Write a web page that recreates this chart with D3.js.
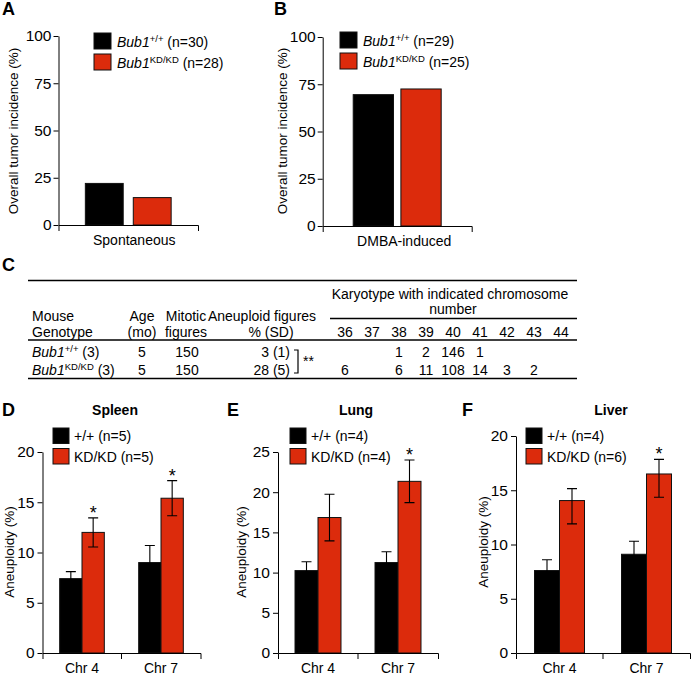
<!DOCTYPE html>
<html><head><meta charset="utf-8">
<script src="https://cdn.jsdelivr.net/npm/d3@7"></script>
<style>
body{margin:0;background:#fff;}
svg{display:block;font-family:"Liberation Sans",Arial,Helvetica,sans-serif;}
</style></head><body>
<svg id="fig" width="691" height="675"></svg>
<script>
// ---------------- data ----------------
const groupKeys = ["wt", "kd"];
const incidenceTicks = [0, 25, 50, 75, 100];
const spontaneousCategory = ["Spontaneous"];
const spontaneousIncidence = [22, 14.5];
const spontaneousN = [30, 28];
const dmbaCategory = ["DMBA-induced"];
const dmbaIncidence = [69.5, 72.5];
const dmbaN = [29, 25];

const tableGenotypeSup = ["+/+", "KD/KD"];
const tableMice = [3, 3];
const tableAge = [5, 5];
const tableMitotic = [150, 150];
const tableAneuploidPct = [3, 28];
const tableAneuploidSD = [1, 5];
const chromosomeNumbers = [36, 37, 38, 39, 40, 41, 42, 43, 44];
const karyotypeWT = [null, null, 1, 2, 146, 1, null, null, null];
const karyotypeKD = [6, null, 6, 11, 108, 14, 3, 2, null];

const chromosomes = ["Chr 4", "Chr 7"];
const spleenTicks = [0, 5, 10, 15, 20];
const spleenWT = [7.4, 9.0];
const spleenWTErr = [0.7, 1.7];
const spleenKD = [12.0, 15.4];
const spleenKDErr = [1.45, 1.75];
const spleenN = [5, 5];
const spleenSig = [true, true];

const lungTicks = [0, 5, 10, 15, 20, 25];
const lungWT = [10.25, 11.25];
const lungWTErr = [1.1, 1.35];
const lungKD = [16.85, 21.35];
const lungKDErr = [2.9, 2.65];
const lungN = [4, 4];
const lungSig = [false, true];

const liverTicks = [0, 5, 10, 15, 20];
const liverWT = [7.6, 9.1];
const liverWTErr = [1.0, 1.2];
const liverKD = [14.05, 16.5];
const liverKDErrUp = [1.1, 1.35];
const liverKDErrDown = [2.15, 2.15];
const liverN = [4, 6];
const liverSig = [false, true];

// ---------------- styles ----------------
const RED = "#dc2b0c";
const FONT = "Liberation Sans, Arial, Helvetica, sans-serif";
const TICKFONT = 15.5;
const svg = d3.select("#fig");

function styleAxis(g, size) {
  g.attr("font-family", FONT).attr("font-size", size || TICKFONT);
  g.selectAll("path,line").attr("stroke", "#000").attr("stroke-width", 1);
}

function richText(g, x, y, parts, size) {
  const t = g.append("text").attr("x", x).attr("y", y).attr("font-size", size || 14);
  parts.forEach(p => {
    const s = t.append("tspan").text(p.t);
    if (p.it) s.attr("font-style", "italic");
    if (p.sup) s.attr("font-size", 9.5).attr("dy", -5);
    if (p.unsup) s.attr("dy", 5);
  });
  return t;
}

function panelLabel(txt, x, y) {
  svg.append("text").attr("x", x).attr("y", y).attr("font-size", 18)
    .attr("font-weight", "bold").text(txt);
}

function yLabel(txt, cx, cy, size) {
  svg.append("text").attr("transform", `translate(${cx},${cy}) rotate(-90)`)
    .attr("text-anchor", "middle").attr("dy", "0.35em")
    .attr("font-size", size || 13.5).text(txt);
}

// ---------------- panels A & B ----------------
function incidencePanel(o) {
  const g = svg.append("g");
  const y = d3.scaleLinear().domain([0, 100]).range([o.y0, o.y1]);
  const x = d3.scaleBand().domain(o.cat).range([o.xl, o.xr]);
  const xi = d3.scaleBand().domain(groupKeys).range([0, x.bandwidth()])
    .paddingInner(o.pi).paddingOuter(o.po);

  g.selectAll("rect.bar").data(o.values).join("rect")
    .attr("x", (d, i) => x(o.cat[0]) + xi(groupKeys[i]))
    .attr("width", xi.bandwidth())
    .attr("y", d => y(d))
    .attr("height", d => y(0) - y(d))
    .attr("fill", (d, i) => i === 0 ? "#000" : RED)
    .attr("stroke", "#111").attr("stroke-width", 1);

  const ya = g.append("g").attr("transform", `translate(${o.xl},0)`)
    .call(d3.axisLeft(y).tickValues(incidenceTicks).tickSize(5).tickSizeOuter(0).tickPadding(2));
  styleAxis(ya);
  const xa = g.append("g").attr("transform", `translate(0,${o.y0})`)
    .call(d3.axisBottom(x).tickSize(0).tickSizeOuter(6).tickPadding(10));
  styleAxis(xa, 14);
  xa.selectAll(".tick text").attr("dx", o.labelDx);

  // legend
  o.n.forEach((n, i) => {
    g.append("rect").attr("x", o.lx).attr("y", o.ly + i * 21).attr("width", 17).attr("height", 16)
      .attr("fill", i === 0 ? "#000" : RED).attr("stroke", "#111");
    richText(g, o.lx + 23, o.ly + i * 21 + 13.5, [
      { t: "Bub1", it: true }, { t: i === 0 ? "+/+" : "KD/KD", sup: true },
      { t: ` (n=${n})`, unsup: true }
    ]);
  });
}

panelLabel("A", 2, 15);
yLabel("Overall tumor incidence (%)", 13, 131);
incidencePanel({ cat: spontaneousCategory, values: spontaneousIncidence, n: spontaneousN,
  y0: 225, y1: 36, xl: 58.5, xr: 198, pi: 0.21, po: 0.56, lx: 94, ly: 33, labelDx: 6 });

panelLabel("B", 274, 15);
yLabel("Overall tumor incidence (%)", 282, 131);
incidencePanel({ cat: dmbaCategory, values: dmbaIncidence, n: dmbaN,
  y0: 226, y1: 37, xl: 322.7, xr: 471.7, pi: 0.155, po: 0.64, lx: 340, ly: 32, labelDx: 7 });

// ---------------- panel C (table) ----------------
panelLabel("C", 2, 271);
const T = {
  left: 28, right: 577, top: 280.5, karyLine: 318.5, karyLeft: 330, headLine: 340, bottom: 378.5,
  karyY1: 299, karyY2: 314, head1: 321, head2: 337, rows: [356.5, 375],
  genoX: 32, ageX: 142, mitX: 186, aneuHeadX: 262, aneuSdX: 271, aneuValX: 290,
  karyCx: 450, numCx: 453, numL: 345, numR: 561
};
const tg = svg.append("g").attr("font-size", 14);
[[T.left, T.top], [T.left, T.headLine], [T.left, T.bottom], [T.karyLeft, T.karyLine]].forEach(([x1, yy]) => {
  tg.append("line").attr("x1", x1).attr("x2", T.right).attr("y1", yy).attr("y2", yy)
    .attr("stroke", "#000").attr("stroke-width", 1.4);
});
function cell(txt, x, y, anchor) {
  tg.append("text").attr("x", x).attr("y", y).attr("text-anchor", anchor || "middle").text(txt);
}
cell("Karyotype with indicated chromosome", T.karyCx, T.karyY1);
cell("number", T.numCx, T.karyY2);
cell("Mouse", T.genoX, T.head1, "start");
cell("Genotype", T.genoX, T.head2, "start");
cell("Age", T.ageX, T.head1);
cell("(mo)", T.ageX, T.head2);
cell("Mitotic", T.mitX, T.head1);
cell("figures", T.mitX, T.head2);
cell("Aneuploid figures", T.aneuHeadX, T.head1);
cell("% (SD)", T.aneuSdX, T.head2);
const xNum = d3.scalePoint().domain(chromosomeNumbers).range([T.numL, T.numR]);
chromosomeNumbers.forEach(c => cell(String(c), xNum(c), T.head2));
[karyotypeWT, karyotypeKD].forEach((row, r) => {
  const yy = T.rows[r];
  richText(tg, T.genoX, yy, [{ t: "Bub1", it: true }, { t: tableGenotypeSup[r], sup: true },
    { t: ` (${tableMice[r]})`, unsup: true }]);
  cell(String(tableAge[r]), T.ageX, yy);
  cell(String(tableMitotic[r]), T.mitX + 1, yy);
  cell(`${tableAneuploidPct[r]} (${tableAneuploidSD[r]})`, T.aneuValX, yy, "end");
  row.forEach((v, i) => { if (v !== null) cell(String(v), xNum(chromosomeNumbers[i]), yy); });
});
// significance bracket
tg.append("path").attr("d", "M294,350H298V373H294").attr("fill", "none")
  .attr("stroke", "#000").attr("stroke-width", 1.2);
cell("**", 303, 366, "start");

// ---------------- panels D, E, F ----------------
function aneuPanel(o) {
  const g = svg.append("g");
  const base = 653;
  const y = d3.scaleLinear().domain([0, d3.max(o.ticks)]).range([base, o.top]);
  const x0 = d3.scaleBand().domain(chromosomes).range([o.xl, o.xr]);
  const xi = d3.scaleBand().domain(groupKeys).range([0, x0.bandwidth()]).paddingInner(0).paddingOuter(o.po);
  const series = [
    { key: "wt", vals: o.wt, up: o.wtErr, down: o.wtErr, fill: "#000" },
    { key: "kd", vals: o.kd, up: o.kdErrUp, down: o.kdErrDown, fill: RED }
  ];
  series.forEach(s => {
    s.vals.forEach((v, i) => {
      const bx = x0(chromosomes[i]) + xi(s.key);
      g.append("rect").attr("x", bx).attr("width", xi.bandwidth())
        .attr("y", y(v)).attr("height", base - y(v))
        .attr("fill", s.fill).attr("stroke", "#111").attr("stroke-width", 1);
    });
  });
  series.forEach(s => {
    s.vals.forEach((v, i) => {
      const cx = x0(chromosomes[i]) + xi(s.key) + xi.bandwidth() / 2;
      const yt = y(v + s.up[i]), yb = y(v - s.down[i]);
      g.append("path").attr("d", `M${cx},${yt}V${yb}M${cx - 5},${yt}H${cx + 5}M${cx - 5},${yb}H${cx + 5}`)
        .attr("stroke", "#000").attr("stroke-width", 1.1).attr("fill", "none");
      if (s.key === "kd" && o.sig[i]) {
        g.append("text").attr("x", cx).attr("y", yt + 1).attr("text-anchor", "middle")
          .attr("font-size", 18).text("*");
      }
    });
  });
  const ya = g.append("g").attr("transform", `translate(${o.xl},0)`)
    .call(d3.axisLeft(y).tickValues(o.ticks).tickSize(5).tickSizeOuter(0).tickPadding(3));
  styleAxis(ya);
  const xa = g.append("g").attr("transform", `translate(0,${base})`)
    .call(d3.axisBottom(x0).tickSize(0).tickSizeOuter(6).tickPadding(10));
  styleAxis(xa, 14);
  g.append("line").attr("x1", x0(chromosomes[1])).attr("x2", x0(chromosomes[1]))
    .attr("y1", base).attr("y2", base + 6).attr("stroke", "#000");
  // title
  g.append("text").attr("x", o.titleX).attr("y", 415).attr("text-anchor", "middle")
    .attr("font-size", 14).attr("font-weight", "bold").text(o.title);
  // legend
  const labels = ["+/+", "KD/KD"];
  o.n.forEach((n, i) => {
    g.append("rect").attr("x", o.lx).attr("y", 428 + i * 20.5).attr("width", 16).attr("height", 15.5)
      .attr("fill", i === 0 ? "#000" : RED).attr("stroke", "#111");
    g.append("text").attr("x", o.lx + 21).attr("y", 441 + i * 20.5).attr("font-size", 14)
      .text(`${labels[i]} (n=${n})`);
  });
}

panelLabel("D", 2, 416);
yLabel("Aneuploidy (%)", 9.5, 552);
aneuPanel({ title: "Spleen", titleX: 115, ticks: spleenTicks, top: 452, xl: 42.5, xr: 200.5, po: 0.77,
  wt: spleenWT, wtErr: spleenWTErr, kd: spleenKD, kdErrUp: spleenKDErr, kdErrDown: spleenKDErr,
  sig: spleenSig, n: spleenN, lx: 53 });

panelLabel("E", 227, 416);
yLabel("Aneuploidy (%)", 241.5, 552);
aneuPanel({ title: "Lung", titleX: 356, ticks: lungTicks, top: 452, xl: 278, xr: 438, po: 0.74,
  wt: lungWT, wtErr: lungWTErr, kd: lungKD, kdErrUp: lungKDErr, kdErrDown: lungKDErr,
  sig: lungSig, n: lungN, lx: 290 });

panelLabel("F", 462, 416);
yLabel("Aneuploidy (%)", 483, 542);
aneuPanel({ title: "Liver", titleX: 611, ticks: liverTicks, top: 436, xl: 516, xr: 690, po: 0.74,
  wt: liverWT, wtErr: liverWTErr, kd: liverKD, kdErrUp: liverKDErrUp, kdErrDown: liverKDErrDown,
  sig: liverSig, n: liverN, lx: 526 });
</script>
</body></html>
